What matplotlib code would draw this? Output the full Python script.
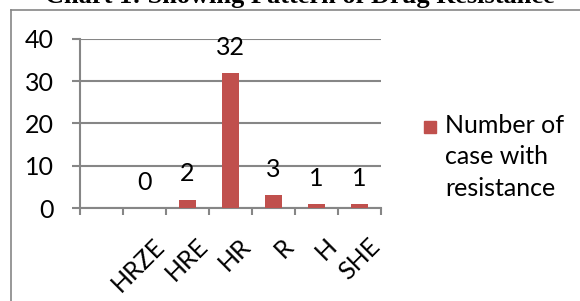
import numpy as np
import matplotlib
matplotlib.use("Agg")
import matplotlib.pyplot as plt
from matplotlib.lines import Line2D
from matplotlib.patches import Rectangle

# ===============================
# Dados
# ===============================
categorias = ["", "HRZE", "HRE", "HR", "R", "H", "SHE"]
casos = [np.nan, 0, 2, 32, 3, 1, 1]
rotulos = ["", "0", "2", "32", "3", "1", "1"]
titulo = "Chart 1: Showing Pattern of Drug Resistance"
legenda = "Number of\ncase with\nresistance"

COR_BARRA = "#c0504d"
COR_EIXO = "#868686"
FONTE = ["Lato", "DejaVu Sans"]
plt.rcParams["font.family"] = FONTE

W, H = 580, 301
fig = plt.figure(figsize=(W / 100, H / 100), dpi=100)

# area do grafico (em pixels)
esq, dir_, topo, base = 80, 381, 39, 208
ax = fig.add_axes([esq / W, (H - base) / H, (dir_ - esq) / W, (base - topo) / H])

x = np.arange(len(categorias))
barras = ax.bar(x, casos, width=0.4, color=COR_BARRA, zorder=3)

# rotulos de dados
for xi, v, r in zip(x, casos, rotulos):
    if r == "":
        continue
    ax.annotate(r, (xi, v), xytext=(0, 18.5), textcoords="offset points",
                ha="center", va="center", fontsize=18, color="black")

ax.set_xlim(-0.5, len(categorias) - 0.5)
ax.set_ylim(0, 40)
ax.set_yticks([0, 10, 20, 30, 40])
ax.yaxis.grid(True, color=COR_EIXO, linewidth=1.5, zorder=0)
ax.tick_params(axis="y", length=6, width=1.5, color=COR_EIXO,
               labelsize=18, pad=13)

# marcas do eixo x nas fronteiras das categorias
ax.set_xticks(np.arange(-0.5, len(categorias), 1.0))
ax.set_xticklabels([])
ax.tick_params(axis="x", length=5, width=1.5, color=COR_EIXO)
for xi, c in zip(x, categorias):
    if c == "":
        continue
    ax.annotate(c, (xi, 0), xytext=(6, -19), textcoords="offset points",
                xycoords=("data", "axes fraction"),
                ha="right", va="top", rotation=45, rotation_mode="anchor",
                fontsize=18)

for lado in ["top", "right"]:
    ax.spines[lado].set_visible(False)
for lado in ["left", "bottom"]:
    ax.spines[lado].set_color(COR_EIXO)
    ax.spines[lado].set_linewidth(1.5)

# legenda (quadrado alinhado com a primeira linha)
fig.add_artist(Rectangle((424 / W, (H - 133) / H), 12 / W, 12 / H,
                         transform=fig.transFigure, color=COR_BARRA))
fig.text(445 / W, (H - 157) / H, legenda, ha="left", va="center",
         fontsize=18, linespacing=1.45)

# titulo (cortado no topo)
fig.text(300 / W, (H - 3) / H, titulo, ha="center", va="baseline",
         fontsize=19, fontweight="bold", family="Liberation Serif")

# borda da area do grafico
fig.add_artist(Line2D([11 / W, 11 / W], [0, (H - 9.5) / H],
                      transform=fig.transFigure, color=COR_EIXO, lw=1.2))
fig.add_artist(Line2D([11 / W, 1], [(H - 9.5) / H, (H - 9.5) / H],
                      transform=fig.transFigure, color=COR_EIXO, lw=1.2))

fig.savefig("out.png", dpi=100)
